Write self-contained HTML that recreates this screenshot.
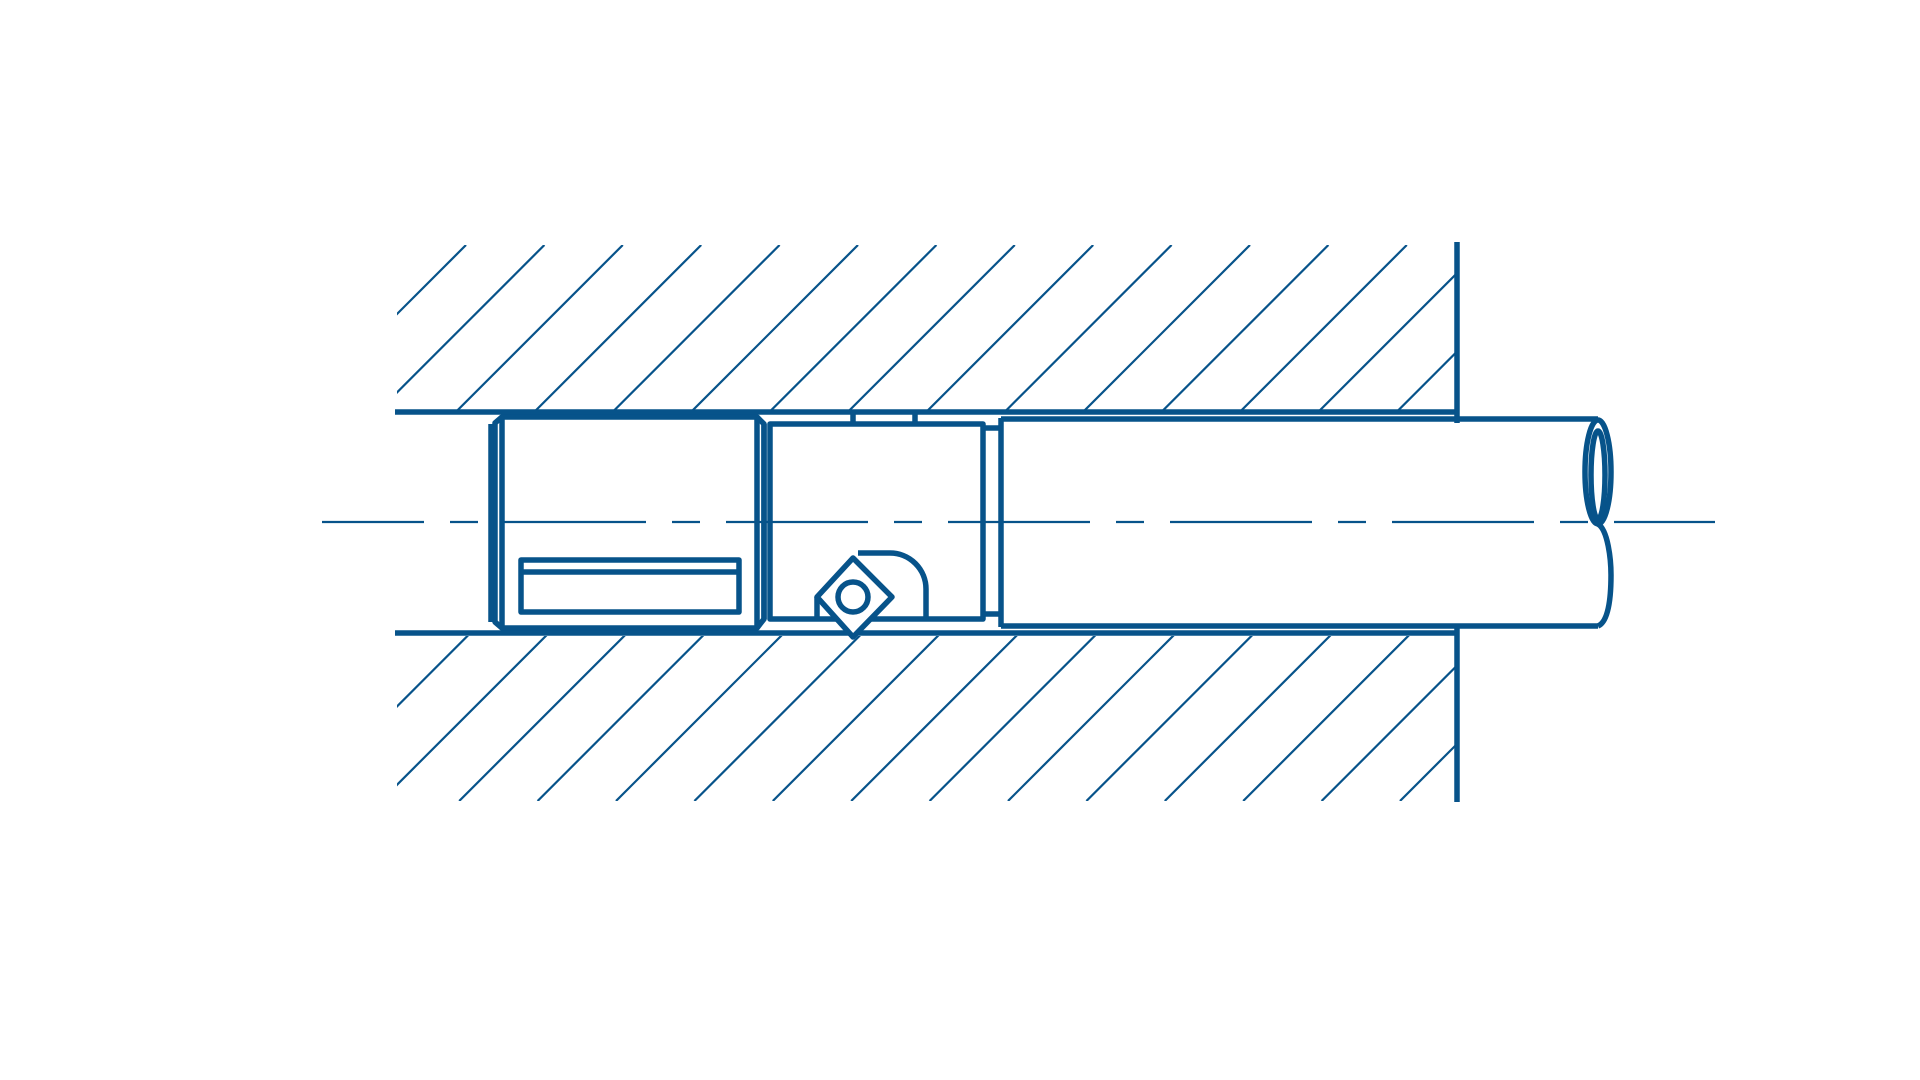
<!DOCTYPE html>
<html><head><meta charset="utf-8"><style>html,body{margin:0;padding:0;background:#fff}svg{display:block}</style></head>
<body>
<svg width="1920" height="1080" viewBox="0 0 1920 1080" xmlns="http://www.w3.org/2000/svg">
<defs>
<clipPath id="ct"><rect x="397" y="245" width="1058" height="165"/></clipPath>
<clipPath id="cb"><rect x="397" y="636" width="1058" height="165"/></clipPath>
</defs>
<g stroke="#07538a" fill="none" stroke-linecap="butt">
<g stroke-width="2.2" clip-path="url(#ct)">
<line x1="466" y1="245" x2="266" y2="445"/><line x1="544.4" y1="245" x2="344.4" y2="445"/><line x1="622.8" y1="245" x2="422.8" y2="445"/><line x1="701.2" y1="245" x2="501.2" y2="445"/><line x1="779.6" y1="245" x2="579.6" y2="445"/><line x1="858" y1="245" x2="658" y2="445"/><line x1="936.4" y1="245" x2="736.4" y2="445"/><line x1="1014.8" y1="245" x2="814.8" y2="445"/><line x1="1093.2" y1="245" x2="893.2" y2="445"/><line x1="1171.6" y1="245" x2="971.6" y2="445"/><line x1="1250" y1="245" x2="1050" y2="445"/><line x1="1328.4" y1="245" x2="1128.4" y2="445"/><line x1="1406.8" y1="245" x2="1206.8" y2="445"/><line x1="1485.2" y1="245" x2="1285.2" y2="445"/><line x1="1563.6" y1="245" x2="1363.6" y2="445"/>
</g>
<g stroke-width="2.2" clip-path="url(#cb)">
<line x1="1400" y1="801" x2="1600" y2="601"/><line x1="1321.6" y1="801" x2="1521.6" y2="601"/><line x1="1243.2" y1="801" x2="1443.2" y2="601"/><line x1="1164.8" y1="801" x2="1364.8" y2="601"/><line x1="1086.4" y1="801" x2="1286.4" y2="601"/><line x1="1008" y1="801" x2="1208" y2="601"/><line x1="929.6" y1="801" x2="1129.6" y2="601"/><line x1="851.2" y1="801" x2="1051.2" y2="601"/><line x1="772.8" y1="801" x2="972.8" y2="601"/><line x1="694.4" y1="801" x2="894.4" y2="601"/><line x1="616" y1="801" x2="816" y2="601"/><line x1="537.6" y1="801" x2="737.6" y2="601"/><line x1="459.2" y1="801" x2="659.2" y2="601"/><line x1="380.8" y1="801" x2="580.8" y2="601"/><line x1="302.4" y1="801" x2="502.4" y2="601"/>
</g>
<!-- centerline -->
<path d="M322 522H1715" stroke-width="2.2" stroke-dasharray="142 26 28 26" stroke-dashoffset="40"/>
<g stroke-width="5.5" stroke-linejoin="round">
<path d="M395 412H1457M395 633H1457"/>
<path d="M1457 242V423M1457 626V802"/>
<rect x="502" y="417" width="255" height="211"/>
<path d="M502 417L495 423V622L502 628"/>
<path d="M491 424V622"/>
<path d="M757 417L764 424V619L757 628"/>
<rect x="521" y="560" width="218" height="52"/>
<path d="M521 572H739"/>
<rect x="770" y="424" width="213" height="195"/>
<path d="M764 424V619"/>
<path d="M853 412V424M915 412V424"/>
<path d="M983 428H1001M983 614H1001"/>
<path d="M853 558L892 597L853 637L817 597Z" fill="#fff"/>
<circle cx="853" cy="597" r="15"/>
<path d="M858 553H890A36 36 0 0 1 926 589V619"/>
<path d="M817 597V619"/>
<path d="M1001 418V627"/>
<path d="M1001 419H1598M1001 626H1598"/>
<ellipse cx="1598" cy="472" rx="13" ry="52"/>
<ellipse cx="1598" cy="475" rx="7" ry="44"/>
<path d="M1598 524C1608 530 1611 560 1611 575C1611 600 1608 622 1598 626"/>
</g>
</g>
</svg>
</body></html>
